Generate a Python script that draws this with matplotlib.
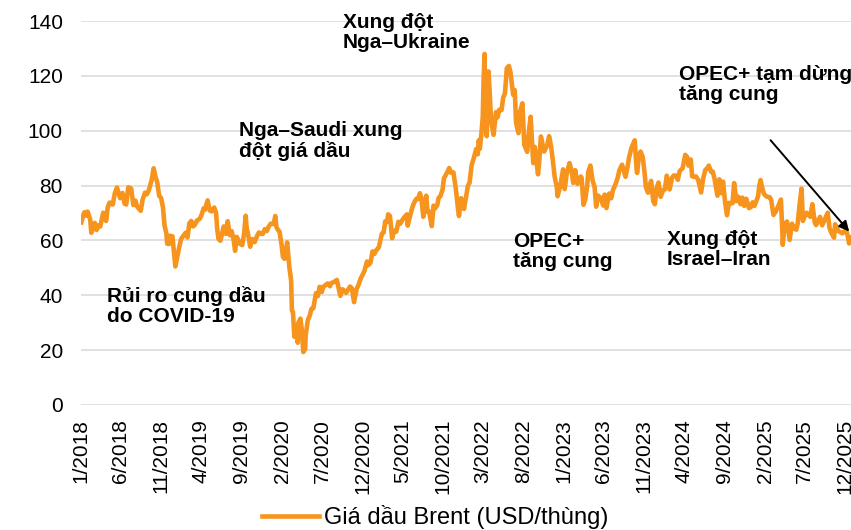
import numpy as np
import pandas as pd
import matplotlib
matplotlib.use('Agg')
import matplotlib.pyplot as plt

plt.rcParams['font.family'] = ['Liberation Sans', 'DejaVu Sans']

# Brent price (USD/barrel)
dates = [
    # 2018
    '2018-01-02', '2018-01-12', '2018-01-15', '2018-01-22', '2018-01-26', '2018-02-05', '2018-02-09',
    '2018-02-15', '2018-02-22', '2018-03-01', '2018-03-09', '2018-03-15', '2018-03-26', '2018-04-06',
    '2018-04-12', '2018-04-19', '2018-05-01', '2018-05-09', '2018-05-17', '2018-05-29', '2018-06-07',
    '2018-06-15', '2018-06-21', '2018-06-29', '2018-07-10', '2018-07-18', '2018-07-26', '2018-08-01',
    '2018-08-15', '2018-08-22', '2018-08-31', '2018-09-07', '2018-09-14', '2018-09-25', '2018-10-03',
    '2018-10-10', '2018-10-16', '2018-10-24', '2018-10-31', '2018-11-07', '2018-11-13', '2018-11-20',
    '2018-11-23', '2018-11-30', '2018-12-03', '2018-12-13', '2018-12-18', '2018-12-24', '2018-12-31',
    # 2019
    '2019-01-07', '2019-01-15', '2019-01-22', '2019-02-01', '2019-02-08', '2019-02-15', '2019-02-22',
    '2019-03-01', '2019-03-08', '2019-03-15', '2019-03-26', '2019-04-01', '2019-04-10', '2019-04-15',
    '2019-04-25', '2019-05-03', '2019-05-10', '2019-05-20', '2019-05-27', '2019-05-31', '2019-06-05',
    '2019-06-12', '2019-06-18', '2019-06-25', '2019-07-03', '2019-07-10', '2019-07-18', '2019-07-25',
    '2019-08-01', '2019-08-07', '2019-08-13', '2019-08-20', '2019-08-26', '2019-09-03', '2019-09-10',
    '2019-09-16', '2019-09-20', '2019-09-25', '2019-10-03', '2019-10-11', '2019-10-20', '2019-10-29',
    '2019-11-05', '2019-11-13', '2019-11-20', '2019-11-27', '2019-12-05', '2019-12-13', '2019-12-20',
    '2019-12-31',
    # 2020
    '2020-01-06', '2020-01-10', '2020-01-15', '2020-01-22', '2020-01-30', '2020-02-04', '2020-02-10',
    '2020-02-20', '2020-02-28', '2020-03-06', '2020-03-09', '2020-03-13', '2020-03-18', '2020-03-25',
    '2020-03-31', '2020-04-02', '2020-04-10', '2020-04-15', '2020-04-21', '2020-04-28', '2020-04-30',
    '2020-05-08', '2020-05-15', '2020-05-22', '2020-05-29', '2020-06-08', '2020-06-15', '2020-06-22',
    '2020-06-30', '2020-07-06', '2020-07-15', '2020-07-22', '2020-07-31', '2020-08-04', '2020-08-14',
    '2020-08-26', '2020-09-08', '2020-09-16', '2020-09-23', '2020-09-30', '2020-10-07', '2020-10-15',
    '2020-10-22', '2020-10-30', '2020-11-09', '2020-11-16', '2020-11-24', '2020-12-01', '2020-12-08',
    '2020-12-18', '2020-12-21', '2020-12-31',
    # 2021
    '2021-01-08', '2021-01-15', '2021-01-20', '2021-02-01', '2021-02-08', '2021-02-12', '2021-02-19',
    '2021-02-25', '2021-03-04', '2021-03-08', '2021-03-15', '2021-03-23', '2021-03-31', '2021-04-08',
    '2021-04-16', '2021-04-23', '2021-04-30', '2021-05-07', '2021-05-18', '2021-05-21', '2021-05-31',
    '2021-06-08', '2021-06-15', '2021-06-23', '2021-06-30', '2021-07-06', '2021-07-12', '2021-07-19',
    '2021-07-30', '2021-08-04', '2021-08-10', '2021-08-20', '2021-08-27', '2021-09-01', '2021-09-10',
    '2021-09-15', '2021-09-22', '2021-09-30', '2021-10-05', '2021-10-11', '2021-10-19', '2021-10-25',
    '2021-11-01', '2021-11-10', '2021-11-19', '2021-11-26', '2021-12-01', '2021-12-09', '2021-12-15',
    '2021-12-20', '2021-12-31',
    # 2022
    '2022-01-04', '2022-01-10', '2022-01-18', '2022-01-26', '2022-02-04', '2022-02-10', '2022-02-14',
    '2022-02-18', '2022-02-24', '2022-03-01', '2022-03-04', '2022-03-08', '2022-03-10', '2022-03-16',
    '2022-03-23', '2022-03-28', '2022-04-01', '2022-04-06', '2022-04-11', '2022-04-20', '2022-04-26',
    '2022-05-02', '2022-05-11', '2022-05-17', '2022-05-24', '2022-05-31', '2022-06-08', '2022-06-14',
    '2022-06-24', '2022-06-30', '2022-07-05', '2022-07-14', '2022-07-20', '2022-07-29', '2022-08-05',
    '2022-08-16', '2022-08-23', '2022-08-29', '2022-09-08', '2022-09-14', '2022-09-26', '2022-09-30',
    '2022-10-07', '2022-10-19', '2022-10-31', '2022-11-07', '2022-11-15', '2022-11-22', '2022-11-28',
    '2022-12-06', '2022-12-09', '2022-12-19', '2022-12-30',
    # 2023
    '2023-01-05', '2023-01-12', '2023-01-23', '2023-01-31', '2023-02-06', '2023-02-14', '2023-02-22',
    '2023-03-07', '2023-03-10', '2023-03-17', '2023-03-24', '2023-03-31', '2023-04-04', '2023-04-12',
    '2023-04-21', '2023-04-28', '2023-05-04', '2023-05-10', '2023-05-20', '2023-05-31', '2023-06-05',
    '2023-06-12', '2023-06-22', '2023-06-30', '2023-07-07', '2023-07-14', '2023-07-24', '2023-07-31',
    '2023-08-10', '2023-08-23', '2023-08-31', '2023-09-05', '2023-09-15', '2023-09-27', '2023-10-04',
    '2023-10-06', '2023-10-13', '2023-10-19', '2023-10-27', '2023-11-03', '2023-11-08', '2023-11-16',
    '2023-11-24', '2023-11-28', '2023-12-06', '2023-12-12', '2023-12-19', '2023-12-26',
    # 2024
    '2024-01-03', '2024-01-12', '2024-01-19', '2024-01-26', '2024-02-06', '2024-02-15', '2024-02-22',
    '2024-03-01', '2024-03-08', '2024-03-15', '2024-03-26', '2024-04-05', '2024-04-12', '2024-04-17',
    '2024-04-26', '2024-05-01', '2024-05-07', '2024-05-16', '2024-05-24', '2024-06-04', '2024-06-12',
    '2024-06-20', '2024-06-28', '2024-07-03', '2024-07-12', '2024-07-18', '2024-07-25', '2024-08-05',
    '2024-08-12', '2024-08-20', '2024-08-26', '2024-09-03', '2024-09-10', '2024-09-17', '2024-09-25',
    '2024-10-01', '2024-10-07', '2024-10-15', '2024-10-22', '2024-10-31', '2024-11-07', '2024-11-14',
    '2024-11-22', '2024-12-02', '2024-12-09', '2024-12-16', '2024-12-23', '2024-12-31',
    # 2025
    '2025-01-06', '2025-01-10', '2025-01-15', '2025-01-21', '2025-01-27', '2025-02-04', '2025-02-10',
    '2025-02-18', '2025-02-24', '2025-03-05', '2025-03-14', '2025-03-25', '2025-04-02', '2025-04-07',
    '2025-04-09', '2025-04-16', '2025-04-25', '2025-05-05', '2025-05-14', '2025-05-22', '2025-05-30',
    '2025-06-04', '2025-06-13', '2025-06-19', '2025-06-24', '2025-07-02', '2025-07-08', '2025-07-22',
    '2025-07-30', '2025-08-08', '2025-08-13', '2025-08-20', '2025-08-28', '2025-09-05', '2025-09-12',
    '2025-09-26', '2025-10-03', '2025-10-10', '2025-10-20', '2025-10-24', '2025-11-05', '2025-11-13',
    '2025-11-21', '2025-11-28', '2025-12-05', '2025-12-10', '2025-12-16', '2025-12-22', '2025-12-29',
]

brent = [
    # 2018
    66.6, 69.9, 70.3, 69.0, 70.5, 67.6, 62.8,
    64.3, 66.4, 63.8, 65.5, 65.1, 70.1, 67.1,
    72.0, 73.8, 73.1, 77.2, 79.3, 75.4, 77.3,
    73.4, 73.1, 79.4, 78.9, 72.9, 74.5, 72.4,
    70.8, 74.8, 77.4, 76.8, 78.1, 81.9, 86.3,
    83.1, 81.4, 76.2, 75.5, 72.1, 65.5, 62.5,
    58.8, 58.7, 61.7, 61.5, 56.3, 50.5, 53.8,
    # 2019
    57.3, 60.6, 61.5, 62.8, 61.1, 66.3, 67.1,
    65.1, 65.7, 67.2, 67.9, 69.0, 71.7, 71.2,
    74.6, 70.9, 70.6, 72.0, 70.1, 64.5, 60.6,
    59.9, 62.1, 65.1, 62.4, 67.0, 61.9, 63.4,
    60.5, 56.2, 61.3, 60.0, 58.7, 58.3, 62.4,
    69.0, 64.3, 62.4, 57.7, 60.5, 59.4, 61.6,
    62.9, 62.4, 62.4, 64.1, 63.4, 65.2, 66.1,
    66.0,
    # 2020
    68.9, 65.0, 64.0, 63.2, 58.3, 54.0, 53.3,
    59.3, 50.5, 45.3, 34.4, 33.9, 24.9, 27.4,
    22.7, 29.9, 31.5, 27.7, 19.3, 20.5, 25.3,
    30.9, 32.5, 35.1, 35.3, 40.8, 39.7, 43.1,
    41.2, 43.1, 43.8, 44.3, 43.3, 44.4, 44.8,
    45.6, 39.8, 42.2, 41.7, 40.9, 42.0, 43.2,
    42.5, 37.5, 42.4, 43.8, 46.1, 47.4, 48.8,
    52.3, 50.9, 51.8,
    # 2021
    56.0, 55.1, 56.1, 57.6, 60.6, 62.4, 62.9,
    67.0, 66.7, 69.5, 68.9, 60.8, 63.5, 63.2,
    66.8, 66.1, 67.3, 68.3, 69.5, 65.4, 69.3,
    72.2, 73.9, 75.2, 75.1, 77.2, 75.2, 68.6,
    76.3, 70.4, 70.6, 65.2, 72.7, 71.6, 72.9,
    75.5, 76.2, 78.5, 82.6, 83.7, 85.1, 86.4,
    84.7, 84.8, 78.9, 72.7, 68.9, 75.4, 73.9,
    71.5, 77.8,
    # 2022
    80.0, 81.0, 87.5, 90.0, 93.3, 91.4, 96.5,
    93.5, 99.1, 105.0, 118.1, 128.0, 109.3, 98.0,
    121.6, 112.5, 104.4, 101.1, 98.5, 106.8, 104.9,
    107.6, 107.5, 112.0, 113.6, 122.8, 123.6, 121.2,
    113.1, 114.8, 102.8, 99.1, 106.9, 110.0, 94.9,
    92.3, 100.2, 105.1, 88.2, 94.1, 84.1, 88.0,
    97.9, 92.4, 94.8, 98.0, 93.9, 88.4, 83.2,
    79.4, 76.1, 79.8, 85.9,
    # 2023
    78.7, 84.0, 88.2, 85.5, 81.0, 85.6, 80.6,
    83.3, 82.8, 73.0, 75.0, 79.8, 84.9, 87.3,
    81.7, 79.5, 72.3, 76.4, 75.6, 72.7, 76.7,
    71.8, 77.1, 75.4, 78.5, 79.9, 82.7, 85.6,
    87.6, 83.2, 86.9, 90.0, 93.9, 96.5, 85.8,
    84.6, 90.9, 92.4, 90.5, 84.9, 79.5, 77.4,
    80.6, 81.7, 74.3, 73.2, 79.2, 81.1,
    # 2024
    75.9, 78.3, 78.6, 83.6, 78.6, 82.9, 83.7,
    83.6, 82.1, 85.3, 86.3, 91.2, 90.5, 87.3,
    89.5, 83.4, 83.2, 83.3, 82.1, 77.5, 82.6,
    85.7, 86.4, 87.3, 85.0, 85.1, 82.4, 76.3,
    82.3, 77.2, 81.4, 73.8, 69.2, 73.7, 73.5,
    73.6, 80.9, 74.3, 76.0, 73.2, 75.6, 72.6,
    75.2, 71.8, 72.1, 73.9, 72.6, 74.6,
    # 2025
    76.3, 79.8, 82.0, 79.3, 77.1, 76.2, 75.9,
    75.8, 74.8, 69.3, 70.6, 73.0, 74.9, 64.2,
    58.4, 65.9, 66.9, 60.2, 66.1, 64.4, 63.9,
    65.9, 74.2, 78.9, 67.1, 69.1, 70.1, 68.6,
    73.2, 66.6, 65.6, 67.0, 68.6, 65.5, 67.0,
    70.1, 64.5, 62.7, 61.0, 65.9, 63.5, 63.0,
    62.6, 63.2, 63.8, 62.0, 58.9, 61.2, 60.0,
]

series_name = 'Giá dầu Brent (USD/thùng)'
events = [
    ('Rủi ro cung dầu\ndo COVID-19', 107, 322),
    ('Nga–Saudi xung\nđột giá dầu', 239, 157),
    ('Xung đột\nNga–Ukraine', 343, 48),
    ('OPEC+\ntăng cung', 513, 267),
    ('Xung đột\nIsrael–Iran', 667, 265),
    ('OPEC+ tạm dừng\ntăng cung', 679, 100),
]

x = pd.to_datetime(dates)
W, H = 851, 530

fig = plt.figure(figsize=(W / 100, H / 100), dpi=100)
ax = fig.add_axes([81 / W, 125 / H, 773.4 / W, 384 / H])

orange = '#F7941D'
ax.plot(x, brent, color=orange, lw=3.3, solid_joinstyle='round', label=series_name)

ax.set_xlim(pd.Timestamp('2018-01-01'), pd.Timestamp('2026-01-05'))
ax.set_ylim(0, 140)
ax.set_yticks(np.arange(0, 141, 20))

ticks = pd.date_range('2018-01-01', '2025-12-01', freq='5MS')
ax.set_xticks(ticks)
ax.set_xticklabels([f'{d.month}/{d.year}' for d in ticks], rotation=90)

ax.grid(axis='y', color='#D9D9D9', lw=1.1)
ax.set_axisbelow(True)
for s in ax.spines.values():
    s.set_visible(False)
ax.tick_params(axis='both', length=0, labelsize=15, colors='#000000')
ax.tick_params(axis='y', pad=13)
ax.tick_params(axis='x', pad=10)

# event labels (pixel positions from the original layout)
for txt, px, py in events:
    fig.text(px / W, 1 - py / H, txt, fontsize=15, fontweight='bold',
             ha='left', va='baseline', linespacing=1.05)

# arrow to the latest point
ax.annotate('', xy=(pd.Timestamp('2025-12-23'), 62.5),
            xytext=(pd.Timestamp('2025-02-15'), 97.3),
            arrowprops=dict(arrowstyle='-|>', color='black', lw=1.4,
                            mutation_scale=15))

fig.legend(loc='center', bbox_to_anchor=(435 / W, 1 - 517 / H), frameon=False,
           fontsize=17, handlelength=2.4, handletextpad=0.2)

fig.savefig('out.png', dpi=100)
